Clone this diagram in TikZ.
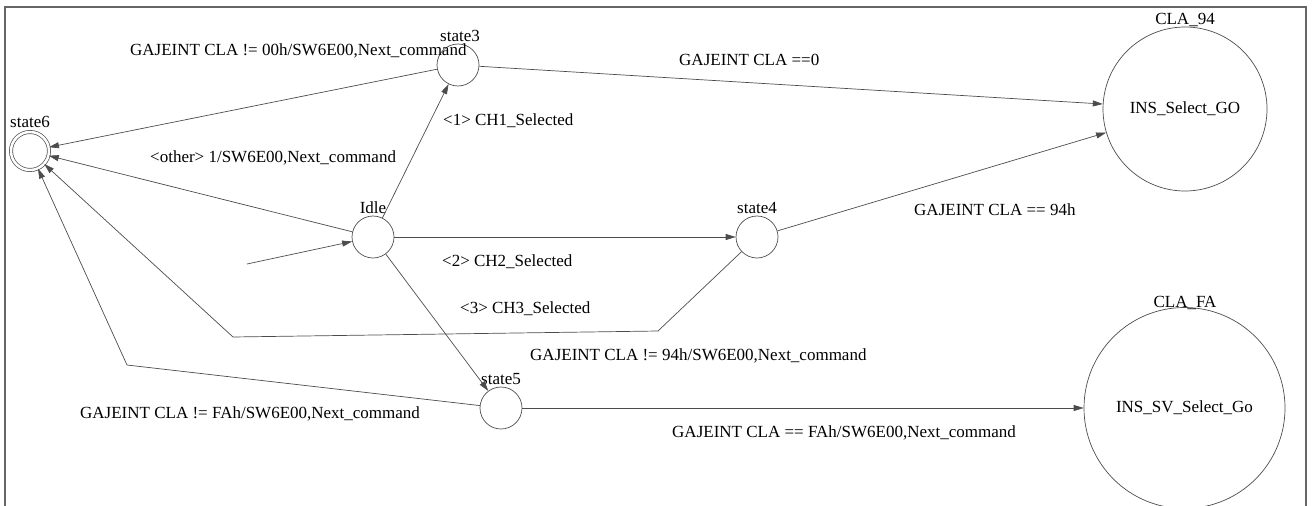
\documentclass[tikz,border=0pt]{standalone}
\usepackage{fontspec}
\setmainfont{Liberation Serif}
\usetikzlibrary{arrows.meta}
\begin{document}
\begin{tikzpicture}[x=1pt,y=-1pt,
  every node/.style={font=\fontsize{17}{20}\selectfont},
  st/.style={circle,draw=black!70,line width=0.7pt,minimum size=42pt,inner sep=0pt},
  big/.style={circle,draw=black!70,line width=0.7pt,inner sep=0pt},
  lab/.style={anchor=base,inner sep=0pt},
  elab/.style={anchor=base west,inner sep=0pt},
  tr/.style={draw=black!70,line width=0.7pt,-{Triangle[length=10pt,width=6pt]}},
  ]
\useasboundingbox (0,0) rectangle (1312,506);
\clip (0,0) rectangle (1312,506);
\draw[black!60,line width=1.5pt] (5,520) -- (5,7) -- (1306,7) -- (1306,520);

% states
\node[st,double,double distance=2.5pt,minimum size=38pt] (s6) at (30,151) {};
\node[st] (s3) at (458,65) {};
\node[st] (idle) at (373,237) {};
\node[st] (s4) at (757,237) {};
\node[st] (s5) at (501,408) {};
\node[big,minimum size=164pt] (c94) at (1185,109) {INS\_Select\_GO};
\node[big,minimum size=201pt] (cfa) at (1184.5,408) {INS\_SV\_Select\_Go};

% state names
\node[lab] (l6) at (30,127) {state6};
\node[lab] (l3) at (460,41) {state3};
\node[lab] (li) at (373,213) {Idle};
\node[lab] (l4) at (757,213) {state4};
\node[lab] (l5) at (501,384) {state5};
\node[lab] (l94) at (1185,24) {CLA\_94};
\node[lab] (lfa) at (1185,307) {CLA\_FA};

% bend points
\coordinate (init) at (247,264);
\coordinate (b1) at (658,331);
\coordinate (b2) at (233,337);
\coordinate (b3) at (127,365);

% transitions
\draw[tr] (init) -- (idle);
\draw[tr] (idle) -- (s3);
\draw[tr] (idle) -- (s4);
\draw[tr] (idle) -- (s5);
\draw[tr] (idle) -- (s6);
\draw[tr] (s3) -- (s6);
\draw[tr] (s3) -- (c94);
\draw[tr] (s4) -- (c94);
\draw[tr] (s4) -- (b1) -- (b2) -- (s6);
\draw[tr] (s5) -- (b3) -- (s6);
\draw[tr] (s5) -- (cfa);

% transition labels
\node[elab] (t1) at (130,55) {GAJEINT CLA != 00h/SW6E00,Next\_command};
\node[elab] (t2) at (679,65) {GAJEINT CLA ==0};
\node[elab] (t3) at (443,125) {<1> CH1\_Selected};
\node[elab] (t4) at (150,162) {<other> 1/SW6E00,Next\_command};
\node[elab] (t5) at (442,266) {<2> CH2\_Selected};
\node[elab] (t6) at (460,313) {<3> CH3\_Selected};
\node[elab] (t7) at (530,360) {GAJEINT CLA != 94h/SW6E00,Next\_command};
\node[elab] (t8) at (914,215) {GAJEINT CLA == 94h};
\node[elab] (t9) at (80,418) {GAJEINT CLA != FAh/SW6E00,Next\_command};
\node[elab] (t10) at (672,437) {GAJEINT CLA == FAh/SW6E00,Next\_command};
\end{tikzpicture}
\end{document}
